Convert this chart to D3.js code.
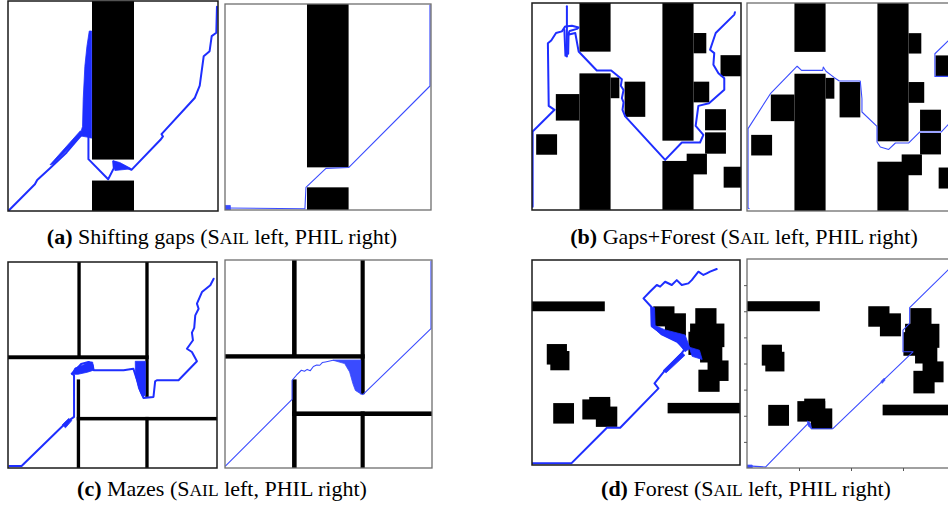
<!DOCTYPE html>
<html>
<head>
<meta charset="utf-8">
<script src="https://cdn.jsdelivr.net/npm/d3@7"></script>
<style>
  body { margin: 0; background: #fff; }
  svg { display: block; }
</style>
</head>
<body>
<svg id="fig" width="948" height="507"></svg>
<script>
// all map coordinates are grid units 0..100, y pointing down
// obstacles / walls: [x0, y0, x1, y1]
const gapsObsSail = [[40, 0, 60, 75.5], [40, 85.5, 60, 100]];
const gapsObsPhil = [[39.8, 0, 60, 79.3], [39.8, 89, 60, 100]];

const gapsForestObs = [
  [22.7, 0, 37.6, 23.5], [22.7, 34, 37.6, 100], [37.6, 36, 41.8, 46],
  [11.4, 44, 22.7, 56.8], [44.3, 38, 54.2, 55], [2, 63.4, 12, 73.3],
  [62.4, 0, 77.3, 66.5], [77.3, 14.5, 83.4, 24.3], [77.3, 38, 84.8, 48],
  [90.2, 25.2, 100, 35.4], [82.8, 51.3, 92.8, 61.5], [82.8, 62.5, 92.8, 72.8],
  [74, 72.8, 83.7, 82.8], [62.4, 76.3, 77.3, 100], [91.7, 79.1, 100, 89.2]
];

const mazeWallsSail = [
  [33.2, 0, 34.8, 46.1], [65.7, 0, 67.3, 65.5], [0, 45.3, 67.3, 47.2],
  [32.9, 57, 34.5, 100], [32.9, 75.2, 100, 76.9], [65.7, 75.2, 67.3, 100]
];
const mazeWallsPhil = [
  [32.4, 0, 34.6, 46.5], [65.5, 0, 67.5, 64.5], [0, 45.3, 67.5, 47.4],
  [32.4, 57.4, 34.6, 100], [32.4, 72.8, 100, 75], [65.5, 72.8, 67.5, 100]
];

const forestObs = [
  [0, 20.2, 35, 25], [65.2, 69.7, 100, 74.8], [7.1, 41, 16.8, 51],
  [8.8, 44.4, 18, 53.8], [10.2, 69.8, 20.2, 79.8], [24.2, 68, 37.6, 77.8],
  [27.5, 66.8, 37.6, 74], [30.7, 71.5, 41, 81.4], [58.3, 22.6, 68.5, 32.4],
  [63.9, 26, 74, 37], [78.5, 23.5, 88.7, 33], [76, 31, 92.5, 42.5],
  [75.2, 35, 85.6, 46.3], [80.8, 41.3, 91.5, 50], [84.4, 49, 94.5, 59],
  [80, 53.5, 90.2, 64.3]
];

// trajectories
const sailPathA = [
  [0.6, 99.5], [5.7, 94.4], [12.8, 87.3], [13.9, 85.2], [20, 79.6], [27.9, 72.1],
  [35, 63.7], [37.1, 61.6], [38.3, 62.6], [38.3, 75.3], [47.7, 84.9], [50.4, 79.6],
  [50.1, 76.4], [58.8, 80.4], [72.6, 66.1], [73.8, 64.5], [73.1, 63.4], [88.9, 46.2],
  [91.3, 40.3], [93.2, 26.3], [96, 23.9], [97, 16.7], [99.2, 15.1], [99.5, 2.7]
];
const sailBlobsA = [
  [[38.7, 14.3], [39.8, 14.3], [39.8, 65.3], [37.7, 64.8], [34.2, 64.2], [35.5, 59.7],
   [35.8, 47], [36.6, 31.1], [37.6, 21.5]],
  [[20, 78], [34.5, 61.8], [35.6, 63.6], [21.5, 77.6]],
  [[50.1, 76.1], [53.2, 76.9], [58.8, 79.9], [50.9, 80.7]]
];
const philPathA = [
  [1, 99], [38.8, 99.4], [39.3, 89], [49, 79.8], [60, 79.4], [99.5, 39.8], [99.5, 0.5]
];
const philBlobsA = [[[0, 97.8], [2.6, 97.8], [2.6, 100], [0, 100]]];

const sailPathB = [
  [0.3, 98.4], [0.3, 62.1], [10.8, 51.6], [8, 49.7], [7.6, 19.4], [9.2, 18.1],
  [11.5, 14.5], [14.3, 13.7], [15.9, 11.3], [19.1, 11], [22.3, 11.8], [21.5, 12.5],
  [18, 13.5], [17.2, 15.3], [20.7, 14.5], [22.3, 23.4], [31, 32.6], [37.9, 32.6],
  [43, 36.8], [42.5, 40], [43.8, 42], [43, 46], [43.8, 48], [43.3, 51.6], [44.6, 54.8],
  [63.7, 75.8], [71.7, 67.4], [80.4, 67.4], [82, 63.7], [78.3, 59.4], [79.6, 49.7],
  [84.7, 48.4], [92, 41.9], [92, 36.3], [89.2, 33.9], [86.8, 29.8], [87.2, 24.2],
  [85.2, 22.6], [87.9, 14.5], [96.8, 5.6], [97.1, 4.5]
];
const sailExtraB = [
  [[16.7, 1.6], [16.7, 25.8]],
  [[15.5, 13], [16, 25.5]],
  [[17.5, 15], [17.3, 24.5]]
];
const philPathB = [
  [1, 98.9], [0.5, 98.5], [0.5, 60.4], [11.2, 43.6], [24, 30.4], [26.1, 32.4],
  [36.2, 32.4], [36.5, 30.8], [37.8, 32.8], [41.8, 35.9], [44.2, 37.5], [54.2, 37.5],
  [55, 46], [55, 52.4], [62.2, 59.3], [62.2, 66.8], [63.8, 69.2], [67.8, 70.4],
  [71, 67.3], [77.4, 67.3], [82.7, 62], [93, 62], [98.5, 56], [98.5, 40], [97, 35.3],
  [89.9, 35.3], [89.9, 24.4], [97, 17.5], [100, 14.5]
];

const sailPathC = [
  [0.6, 99], [6.5, 99], [28.1, 77.7], [31.6, 75.2], [31.6, 55], [30.5, 54.2],
  [32.9, 51.8], [35, 49.5], [38.5, 48.5], [40.5, 50], [41, 52.6], [55.3, 52.6],
  [60, 51.8], [61, 55], [62, 58], [63.5, 63], [64.8, 66], [69.6, 65.5], [70.4, 57.9],
  [71.2, 57.4], [81.6, 57.4], [90.4, 48.2], [88, 43.7], [85.6, 42.1], [88.5, 38],
  [88, 34.3], [89.1, 32], [89.6, 25.9], [91.2, 22.7], [90.4, 20.2], [92.8, 14.6],
  [96.8, 11.3], [98.4, 8.1]
];
const sailBlobsC = [
  [[26, 79], [29, 76], [30.5, 77], [27.5, 80.5]],
  [[30.5, 54.5], [32, 51.5], [36, 50], [38.5, 48.4], [40.5, 48.6], [41, 52.5],
   [38, 53.5], [33.5, 54.5]],
  [[60.9, 48.2], [65.7, 48.2], [65.7, 64.7], [64.5, 65.5], [62.5, 61.5], [61, 55]]
];
const philPathC = [
  [0.3, 99], [32.4, 67], [32.4, 57.9], [34.5, 55.4], [36.9, 53], [38.4, 53.5],
  [39.7, 52.6], [41.2, 53.2], [42.7, 51.2], [44.3, 50.5], [45.8, 50.6], [47, 49.3],
  [48.5, 49], [52.2, 48.2], [65.5, 48.2], [65.5, 64.3], [66.6, 64.7], [99.5, 33],
  [99.5, 0.6]
];
const philBlobsC = [
  [[52.2, 48.2], [65.5, 48.2], [65.5, 64.3], [63, 62.7], [61.8, 59.5], [60.2, 53.8],
   [57.8, 49.8]]
];

const sailPathD = [
  [0.3, 99.2], [18.9, 99.2], [36, 81.8], [42.4, 81.8], [60.8, 62.6], [58.9, 60.2],
  [64, 53.7], [72, 45.5], [73.6, 43.1], [69.6, 39.8], [62.4, 36.3], [57.6, 31.7],
  [57.3, 22.8], [53.6, 18.7], [56.8, 15.4], [60, 12.2], [61.6, 13], [64, 10.6],
  [67.2, 12.2], [69.6, 9.8], [72, 12.2], [75.2, 11.4], [76.8, 9.8], [80, 5.7],
  [82.4, 7.3], [84, 6.5], [85.6, 5.7], [88.8, 4.4]
];
const sailBlobsD = [
  [[57.3, 22.8], [58.9, 23.3], [59.2, 32], [64, 34.1], [73.6, 36.6], [76, 43.1],
   [73.6, 44.7], [69.6, 39.8], [62.4, 36.3], [57.3, 32.5]],
  [[75.5, 42.5], [80.5, 44], [81.8, 48.5], [77, 47]],
  [[63, 54], [72, 45], [73.5, 46.5], [64.5, 55]]
];
const philPathD = [
  [0.5, 99], [9, 99.5], [29.3, 78.8], [31, 81.2], [41.3, 81.2], [79.8, 44.4],
  [75, 44.4], [75, 34], [78.2, 30.8], [78.2, 23.3], [96.6, 5.3], [100, 2]
];
const philBlobsD = [
  [[0, 98.6], [2.5, 98.6], [2.5, 100], [0, 100]],
  [[29, 77.5], [30.5, 78.5], [31, 81], [29.5, 80]],
  [[64.5, 58.5], [66, 57], [66.3, 58], [65, 59.5]]
];

const forestTicksX = [25, 50, 75];
const forestTicksY = [12.5, 25, 37.5, 50, 62.5, 75, 87.5];

const captionTags = ['(a)', '(b)', '(c)', '(d)'];
const captionNames = ['Shifting gaps', 'Gaps+Forest', 'Mazes', 'Forest'];

// layout
const panels = [
  {obs: gapsObsSail, path: sailPathA, extra: [], blobs: sailBlobsA, kind: 'sail', box: [8, 1, 210, 210]},
  {obs: gapsObsPhil, path: philPathA, extra: [], blobs: philBlobsA, kind: 'phil', box: [225, 4, 206, 206]},
  {obs: gapsForestObs, path: sailPathB, extra: sailExtraB, blobs: [], kind: 'sail', box: [532, 3, 209, 207]},
  {obs: gapsForestObs, path: philPathB, extra: [], blobs: [], kind: 'phil', box: [747, 3, 209, 208]},
  {obs: mazeWallsSail, path: sailPathC, extra: [], blobs: sailBlobsC, kind: 'sail', box: [8, 262, 209, 206]},
  {obs: mazeWallsPhil, path: philPathC, extra: [], blobs: philBlobsC, kind: 'phil', box: [225, 260, 207, 208]},
  {obs: forestObs, path: sailPathD, extra: [], blobs: sailBlobsD, kind: 'sail', box: [532, 260, 208, 205]},
  {obs: forestObs, path: philPathD, extra: [], blobs: philBlobsD, kind: 'phil', box: [747, 259, 208, 209], ticks: true}
];
const captionPos = [[222, 244], [744, 244], [222, 496], [746, 496]];

const style = {
  sail: {color: '#1e2eff', width: 2, frame: '#1a1a1a', frameW: 1.5},
  phil: {color: '#3a4bff', width: 1.1, frame: '#6e6e6e', frameW: 1.3}
};

const svg = d3.select('#fig');
svg.append('rect').attr('width', 948).attr('height', 507).attr('fill', '#fff');
const defs = svg.append('defs');

panels.forEach((p, i) => {
  const [bx, by, bw, bh] = p.box;
  const st = style[p.kind];
  const x = d3.scaleLinear().domain([0, 100]).range([bx, bx + bw]);
  const y = d3.scaleLinear().domain([0, 100]).range([by, by + bh]);
  const line = d3.line().x(d => x(d[0])).y(d => y(d[1]));
  const closed = d3.line().x(d => x(d[0])).y(d => y(d[1])).curve(d3.curveLinearClosed);

  defs.append('clipPath').attr('id', 'clip' + i)
    .append('rect').attr('x', bx).attr('y', by).attr('width', bw).attr('height', bh);

  const g = svg.append('g').attr('clip-path', `url(#clip${i})`);

  // obstacles
  g.append('g').selectAll('rect')
    .data(p.obs)
    .join('rect')
    .attr('x', d => x(d[0]))
    .attr('y', d => y(d[1]))
    .attr('width', d => x(d[2]) - x(d[0]))
    .attr('height', d => y(d[3]) - y(d[1]))
    .attr('fill', '#000');

  // filled bits where the robot dithered
  g.append('g').selectAll('path')
    .data(p.blobs)
    .join('path')
    .attr('d', closed)
    .attr('fill', st.color)
    .attr('stroke', st.color)
    .attr('stroke-width', 0.8);

  // trajectory
  g.append('g').selectAll('path')
    .data([p.path].concat(p.extra))
    .join('path')
    .attr('d', line)
    .attr('fill', 'none')
    .attr('stroke', st.color)
    .attr('stroke-width', st.width)
    .attr('stroke-linejoin', 'round')
    .attr('stroke-linecap', 'round');

  // frame
  svg.append('rect')
    .attr('x', bx).attr('y', by).attr('width', bw).attr('height', bh)
    .attr('fill', 'none')
    .attr('stroke', st.frame)
    .attr('stroke-width', st.frameW);

  if (p.ticks) {
    const ax = svg.append('g').attr('transform', `translate(0,${by + bh})`)
      .call(d3.axisBottom(x).tickValues(forestTicksX).tickSize(3).tickFormat(''));
    const ay = svg.append('g').attr('transform', `translate(${bx},0)`)
      .call(d3.axisLeft(y).tickValues(forestTicksY).tickSize(3).tickFormat(''));
    [ax, ay].forEach(a => {
      a.select('.domain').remove();
      a.selectAll('line').attr('stroke', '#555');
    });
  }
});

// captions
captionTags.forEach((tag, i) => {
  const t = svg.append('text')
    .attr('x', captionPos[i][0])
    .attr('y', captionPos[i][1])
    .attr('text-anchor', 'middle')
    .attr('font-family', '"Liberation Serif", "DejaVu Serif", serif')
    .attr('font-size', 22)
    .attr('fill', '#000')
    .style('white-space', 'pre');
  t.append('tspan').attr('font-weight', 'bold').text(tag);
  t.append('tspan').text(' ' + captionNames[i] + ' (S');
  t.append('tspan').attr('font-size', 17.5).text('AIL');
  t.append('tspan').text(' left, PHIL right)');
});
</script>
</body>
</html>
